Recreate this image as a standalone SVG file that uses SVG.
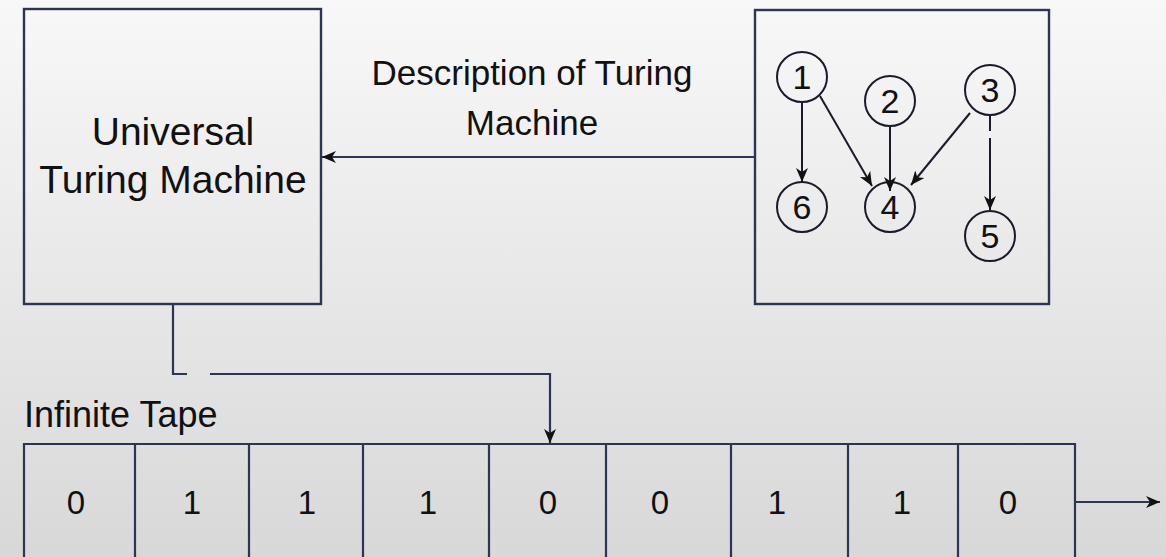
<svg xmlns="http://www.w3.org/2000/svg" width="1166" height="557" viewBox="0 0 1166 557">
<defs>
<linearGradient id="bg" x1="0" y1="0" x2="0" y2="1">
<stop offset="0" stop-color="#f8f8f8"/>
<stop offset="1" stop-color="#d8d8d8"/>
</linearGradient>
<marker id="ah" viewBox="0 0 14 12" refX="14" refY="6" markerWidth="14" markerHeight="12" markerUnits="userSpaceOnUse" orient="auto">
<path d="M0,0 L14,6 L0,12 L4,6 Z" fill="#111"/>
</marker>
</defs>
<style>
.box{fill:none;stroke:#2d3557;stroke-width:2.4}
.ln{fill:none;stroke:#2d3557;stroke-width:2.2}
.cl{fill:none;stroke:#1a1a2a;stroke-width:2}
.t{font-family:"Liberation Sans",Arial,sans-serif;fill:#111}
.big{font-size:39px}
.mid{font-size:35px}
.tape{font-size:36px}
.num{font-size:34px;text-anchor:middle}
.cell{font-size:33px;text-anchor:middle}
</style>
<rect width="1166" height="557" fill="url(#bg)"/>

<g id="utm">
<rect class="box" x="24" y="9" width="297" height="295"/>
<text class="t big" x="173" y="145" text-anchor="middle">Universal</text>
<text class="t big" x="173" y="193" text-anchor="middle">Turing Machine</text>
</g>

<g id="tm">
<rect class="box" x="755" y="10" width="294" height="294"/>
<g id="n1"><circle class="cl" cx="802" cy="77" r="25"/><text class="t num" x="802" y="89">1</text></g>
<g id="n2"><circle class="cl" cx="890" cy="101" r="25"/><text class="t num" x="890" y="113">2</text></g>
<g id="n3"><circle class="cl" cx="990" cy="90" r="25"/><text class="t num" x="990" y="102">3</text></g>
<g id="n6"><circle class="cl" cx="802" cy="207" r="25"/><text class="t num" x="802" y="219">6</text></g>
<g id="n4"><circle class="cl" cx="890" cy="207" r="25"/><text class="t num" x="890" y="219">4</text></g>
<g id="n5"><circle class="cl" cx="990" cy="236" r="25"/><text class="t num" x="990" y="248">5</text></g>
<g id="tm-edges">
<line class="cl" x1="802" y1="102" x2="802" y2="182" marker-end="url(#ah)"/>
<line class="cl" x1="820" y1="96" x2="872" y2="186" marker-end="url(#ah)"/>
<line class="cl" x1="890" y1="126" x2="890" y2="191" marker-end="url(#ah)"/>
<line class="cl" x1="970" y1="113" x2="911" y2="185" marker-end="url(#ah)"/>
<line class="cl" x1="990" y1="115" x2="990" y2="131"/>
<line class="cl" x1="990" y1="138" x2="990" y2="210" marker-end="url(#ah)"/>
</g>
</g>

<g id="tape">
<text class="t tape" x="24" y="427">Infinite Tape</text>
<path class="ln" d="M24,557 V444 H1075 V557"/>
<path class="ln" d="M135,444 V557 M249,444 V557 M363,444 V557 M489,444 V557 M606,444 V557 M731,444 V557 M848,444 V557 M958,444 V557"/>
<text class="t cell" x="76" y="514">0</text>
<text class="t cell" x="192" y="514">1</text>
<text class="t cell" x="307" y="514">1</text>
<text class="t cell" x="428" y="514">1</text>
<text class="t cell" x="548" y="514">0</text>
<text class="t cell" x="660" y="514">0</text>
<text class="t cell" x="777" y="514">1</text>
<text class="t cell" x="902" y="514">1</text>
<text class="t cell" x="1008" y="514">0</text>
</g>

<g id="connectors">
<line class="ln" x1="755" y1="157" x2="322" y2="157" marker-end="url(#ah)"/>
<path class="ln" d="M173,304 V374 H187"/>
<path class="ln" d="M210,374 H550 V443" marker-end="url(#ah)"/>
<line class="ln" x1="1075" y1="502" x2="1160" y2="502" marker-end="url(#ah)"/>
</g>
<g id="label">
<text class="t mid" x="532" y="85" text-anchor="middle">Description of Turing</text>
<text class="t mid" x="532" y="135" text-anchor="middle">Machine</text>
</g>
</svg>
